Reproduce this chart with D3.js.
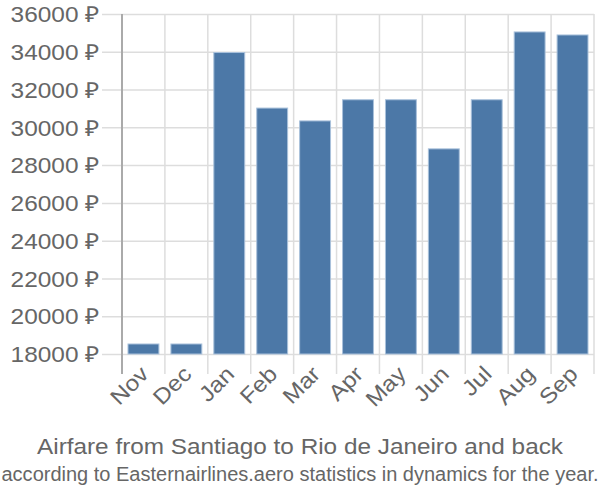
<!DOCTYPE html>
<html lang="en">
<head>
    <meta charset="UTF-8">
    <title>Airfare chart</title>
    <script src="https://d3js.org/d3.v7.min.js"></script>
    <style>
        body { margin: 0; background: #fff; }
        .grid line { stroke: #dddddd; stroke-width: 1.5; }
        .grid path { display: none; }
        .axis text { fill: #666666; font-family: "Liberation Sans", Arial, sans-serif; }
        .bar { fill: #4c78a7; stroke: #a9c1db; stroke-width: 1; }
    </style>
</head>
<body>
    <script>
        var months = ["Nov", "Dec", "Jan", "Feb", "Mar", "Apr", "May", "Jun", "Jul", "Aug", "Sep"];
        var prices = [18530, 18530, 33960, 31020, 30340, 31460, 31460, 28860, 31460, 35050, 34890];
        var yTicks = [18000, 20000, 22000, 24000, 26000, 28000, 30000, 32000, 34000, 36000];

        var margin = {top: 14, right: 6, bottom: 146, left: 122},
            width = 600 - margin.left - margin.right,
            height = 500 - margin.top - margin.bottom;

        var stretch = 1.11; // text in the original is a bit wider than Liberation Sans

        var x = d3.scaleBand().domain(months).range([0, width]).paddingInner(0.28).paddingOuter(0.14);
        var y = d3.scaleLinear().domain([18000, 36000]).range([height, 0]);

        var svg = d3.select("body").append("svg")
            .attr("width", 600)
            .attr("height", 500);

        var g = svg.append("g")
            .attr("transform", "translate(" + margin.left + "," + margin.top + ")");

        // horizontal grid + y tick labels
        var yAxis = g.append("g")
            .attr("class", "grid axis")
            .call(d3.axisLeft(y).tickValues(yTicks).tickSize(20).tickFormat(function(d) { return d + " \u20bd"; }));
        yAxis.selectAll("line").attr("x2", width).attr("x1", -20);
        yAxis.selectAll("text")
            .attr("x", -22 / stretch)
            .attr("dy", "0.35em")
            .attr("transform", "scale(" + stretch + ",1)")
            .style("font-size", "22px");

        // vertical grid at band edges
        var edges = months.map(function(m) { return x(m) - x.step() * x.paddingInner() / 2; });
        edges.push(width);
        g.selectAll(".vgrid")
            .data(edges)
            .enter().append("line")
            .attr("class", "vgrid")
            .attr("x1", function(d) { return d; })
            .attr("x2", function(d) { return d; })
            .attr("y1", 0)
            .attr("y2", height + 20)
            .style("stroke", function(d, i) { return i === 0 ? "#aaaaaa" : "#dddddd"; })
            .style("stroke-width", function(d, i) { return i === 0 ? 2 : 1.5; });

        // bars
        g.selectAll(".bar")
            .data(prices)
            .enter().append("rect")
            .attr("class", "bar")
            .attr("x", function(d, i) { return x(months[i]); })
            .attr("y", function(d) { return y(d); })
            .attr("width", x.bandwidth())
            .attr("height", function(d) { return height - y(d); });

        // x labels
        var xAxis = g.append("g")
            .attr("class", "axis")
            .attr("transform", "translate(0," + height + ")")
            .call(d3.axisBottom(x).tickSize(0));
        xAxis.select(".domain").remove();
        xAxis.selectAll("text")
            .style("font-size", "22px")
            .style("text-anchor", "end")
            .attr("y", 0)
            .attr("dy", "0.35em")
            .attr("transform", "translate(1,16) rotate(-45) scale(" + stretch + ",1)");

        // titles
        svg.append("text")
            .attr("x", 300)
            .attr("y", 454)
            .attr("text-anchor", "middle")
            .attr("textLength", 526)
            .attr("lengthAdjust", "spacingAndGlyphs")
            .style("font-family", "Liberation Sans, Arial, sans-serif")
            .style("font-size", "22px")
            .style("fill", "#666666")
            .text("Airfare from Santiago to Rio de Janeiro and back");

        svg.append("text")
            .attr("x", 300)
            .attr("y", 481)
            .attr("text-anchor", "middle")
            .attr("textLength", 597)
            .attr("lengthAdjust", "spacingAndGlyphs")
            .style("font-family", "Liberation Sans, Arial, sans-serif")
            .style("font-size", "20px")
            .style("fill", "#666666")
            .text("according to Easternairlines.aero statistics in dynamics for the year.");
    </script>
</body>
</html>
